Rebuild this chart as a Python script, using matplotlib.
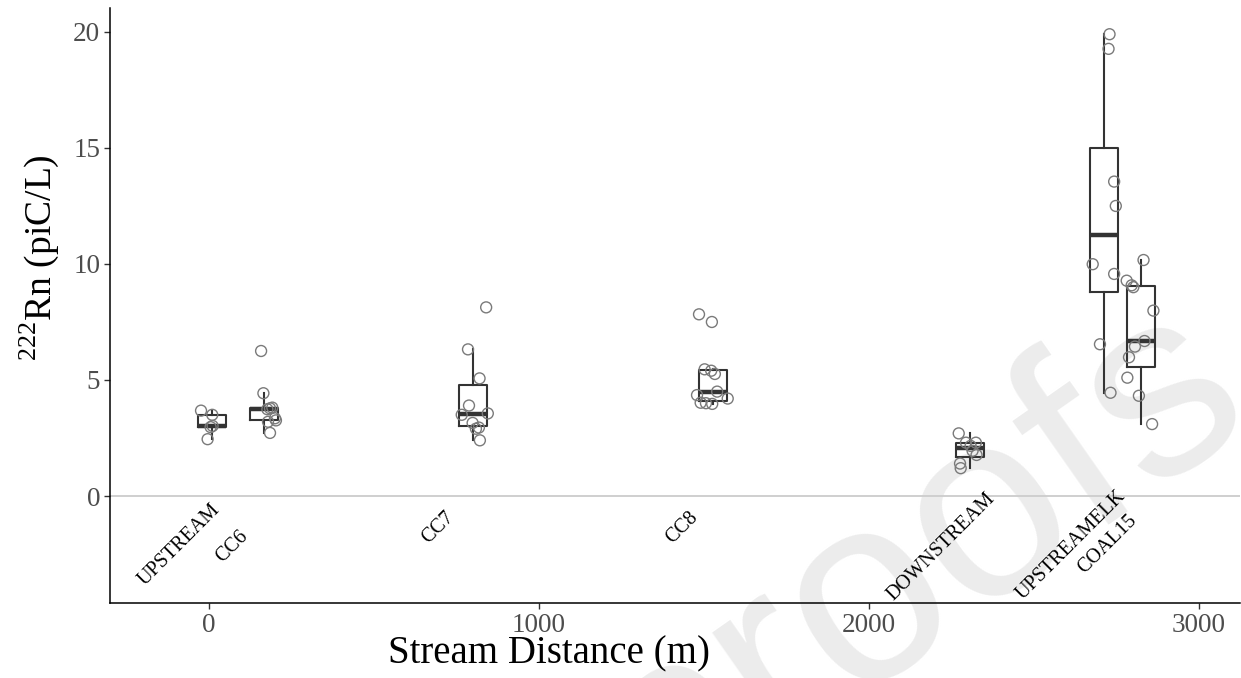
import matplotlib
matplotlib.use("Agg")
import matplotlib.pyplot as plt

plt.rcParams['font.family'] = ['Liberation Serif', 'DejaVu Serif']
plt.rcParams['mathtext.fontset'] = 'custom'
plt.rcParams['mathtext.rm'] = 'Liberation Serif'

# Sites: name, box position (stream distance, m)
sites = ["UPSTREAM", "CC6", "CC7", "CC8", "DOWNSTREAM", "UPSTREAMELK", "COAL15"]
site_dist = [8, 168, 800, 1527, 2306, 2711, 2823]

# Radon samples (piC/L) per site and their jittered distance as drawn
rn_upstream = [3.68, 3.50, 3.02, 2.97, 2.45]
x_upstream = [-24, 10, 11, 5, -4]

rn_cc6 = [6.25, 4.43, 3.81, 3.78, 3.74, 3.35, 3.26, 3.20, 2.72]
x_cc6 = [158, 165, 192, 185, 177, 200, 203, 179, 185]

rn_cc7 = [8.13, 6.32, 5.07, 3.90, 3.50, 3.56, 3.15, 2.95, 2.90, 2.40]
x_cc7 = [840, 785, 820, 788, 766, 845, 799, 818, 809, 821]

rn_cc8 = [7.83, 7.50, 5.46, 5.40, 5.26, 4.50, 4.35, 4.20, 4.02, 4.00, 3.97]
x_cc8 = [1485, 1524, 1502, 1522, 1533, 1540, 1479, 1572, 1490, 1506, 1525]

rn_down = [2.70, 2.30, 2.30, 2.16, 1.95, 1.77, 1.40, 1.20]
x_down = [2272, 2294, 2324, 2308, 2314, 2326, 2276, 2278]

rn_elk = [19.90, 19.27, 13.55, 12.50, 9.99, 9.57, 6.54, 4.45]
x_elk = [2729, 2726, 2743, 2748, 2678, 2743, 2700, 2732]

rn_coal = [10.17, 9.28, 9.08, 9.00, 7.99, 6.68, 6.44, 5.98, 5.10, 4.32, 3.10]
x_coal = [2832, 2781, 2796, 2801, 2862, 2835, 2806, 2788, 2783, 2818, 2858]

rn_all = [rn_upstream, rn_cc6, rn_cc7, rn_cc8, rn_down, rn_elk, rn_coal]
x_all = [x_upstream, x_cc6, x_cc7, x_cc8, x_down, x_elk, x_coal]

# site label anchors (centre of rotated text)
label_x = [-91, 70, 694, 1433, 2218, 2612, 2724]
label_y = [-2.1, -2.2, -1.35, -1.35, -2.2, -2.1, -2.07]

x_ticks = [0, 1000, 2000, 3000]
y_ticks = [0, 5, 10, 15, 20]

fig = plt.figure(figsize=(12.41, 6.78), dpi=100)
ax = fig.add_axes([0.0886, 0.1106, 0.9105, 0.8776])

# faint "proofs" watermark from the journal proof
ax.text(916 / 1241, 1 - 565 / 678, 'proofs', transform=fig.transFigure,
        fontsize=190, family='Liberation Sans', color='#ececec',
        rotation=35, ha='center', va='center', rotation_mode='anchor',
        zorder=0.5, clip_on=False)

ax.axhline(0, color='#cccccc', lw=1.3, zorder=1)

box_col = '#333333'
ax.boxplot(rn_all, positions=site_dist, widths=85, whis=1.5,
           showfliers=False, showcaps=False, manage_ticks=False,
           boxprops=dict(color=box_col, lw=1.5),
           whiskerprops=dict(color=box_col, lw=1.5),
           medianprops=dict(color=box_col, lw=3.2),
           zorder=2)

for xs, ys in zip(x_all, rn_all):
    ax.scatter(xs, ys, s=62, facecolors='none', edgecolors='#7a7a7a',
               linewidths=1.0, zorder=3)

for name, lx, ly in zip(sites, label_x, label_y):
    ax.text(lx, ly, name, rotation=45, ha='center', va='center',
            rotation_mode='anchor', fontsize=14.5, color='black', zorder=4)

ax.set_xlim(-300, 3124)
ax.set_ylim(-4.61, 21.03)
ax.set_xticks(x_ticks)
ax.set_yticks(y_ticks)

for s in ['top', 'right']:
    ax.spines[s].set_visible(False)
for s in ['left', 'bottom']:
    ax.spines[s].set_linewidth(1.1)
    ax.spines[s].set_color('black')

ax.tick_params(axis='both', labelsize=19.5, colors='#4d4d4d', length=4,
               width=1.0, pad=3)
ax.tick_params(axis='both', color='#333333')

ax.set_xlabel('Stream Distance (m)', fontsize=28, color='black')
ax.xaxis.set_label_coords(0.389, -0.055)
ax.set_ylabel(r'$^{222}$Rn (piC/L)', fontsize=27, color='black')
ax.yaxis.set_label_coords(-0.043, 0.58)

fig.savefig('out.png', dpi=100)
